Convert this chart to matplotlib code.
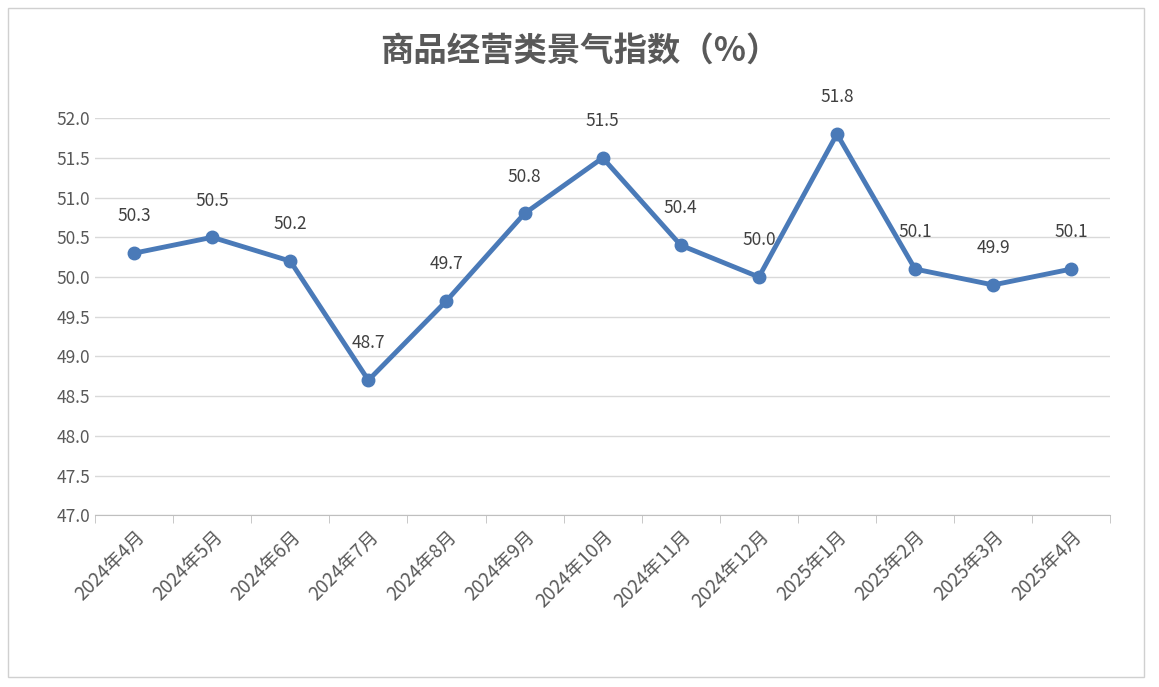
import matplotlib.pyplot as plt
import numpy as np

plt.rcParams['font.family'] = ['Noto Sans CJK SC', 'DejaVu Sans']

months = ['2024年4月', '2024年5月', '2024年6月', '2024年7月', '2024年8月', '2024年9月',
          '2024年10月', '2024年11月', '2024年12月', '2025年1月', '2025年2月', '2025年3月', '2025年4月']
values = [50.3, 50.5, 50.2, 48.7, 49.7, 50.8, 51.5, 50.4, 50.0, 51.8, 50.1, 49.9, 50.1]

fig = plt.figure(figsize=(11.59, 6.87), dpi=100)
fig.patches.append(plt.Rectangle((0.007, 0.014), 0.98, 0.975, transform=fig.transFigure,
                                 fill=False, edgecolor='#d0d0d0', linewidth=1))
ax = fig.add_axes([0.082, 0.250, 0.876, 0.578])

x = np.arange(len(months))
ax.plot(x, values, color='#4a7ab8', linewidth=3.5, marker='o', markersize=9)
for xi, v in zip(x, values):
    ax.annotate(f'{v:.1f}', (xi, v), xytext=(0, 20), textcoords='offset points',
                ha='center', va='bottom', fontsize=12.5, color='#404040')

ax.set_ylim(47, 52)
ax.set_yticks(np.arange(47, 52.01, 0.5))
ax.set_yticklabels([f'{t:.1f}' for t in np.arange(47, 52.01, 0.5)])
ax.set_xlim(-0.5, len(months) - 0.5)
ax.set_xticks(x)
ax.set_xticklabels(months, rotation=45, ha='right', rotation_mode='anchor')
ax.set_xticks(np.arange(-0.5, len(months), 1), minor=True)
ax.tick_params(axis='x', which='major', length=0, pad=8, labelsize=13.5)
ax.tick_params(axis='x', which='minor', length=6, color='#bfbfbf')
ax.tick_params(axis='y', length=0, labelsize=12.5)
ax.tick_params(labelcolor='#595959')
ax.grid(axis='y', color='#d9d9d9', linewidth=1)
ax.set_axisbelow(True)
for s in ['left', 'right', 'top']:
    ax.spines[s].set_visible(False)
ax.spines['bottom'].set_color('#bfbfbf')

fig.text(0.5, 0.925, '商品经营类景气指数（%）', ha='center', va='center',
         fontsize=24, fontweight='bold', color='#595959')

fig.savefig('out.png', dpi=100)
